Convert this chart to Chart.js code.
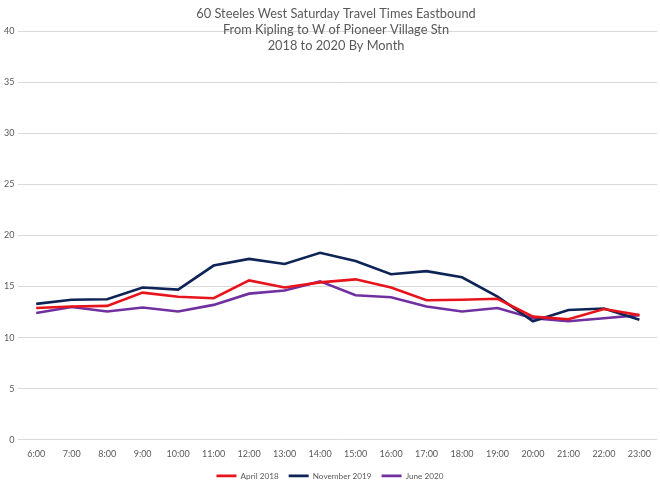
<!DOCTYPE html>
<html>
<head>
<meta charset="utf-8">
<script src="https://cdn.jsdelivr.net/npm/chart.js@4"></script>
<style>
  body { margin: 0; background: #fff; }
  #wrap { width: 660px; height: 484px; }
</style>
</head>
<body>
<div id="wrap"><canvas id="grafico" width="660" height="484"></canvas></div>
<script>
// Datos
const horas = ["6:00", "7:00", "8:00", "9:00", "10:00", "11:00", "12:00", "13:00", "14:00",
  "15:00", "16:00", "17:00", "18:00", "19:00", "20:00", "21:00", "22:00", "23:00"];
const abril2018 = [12.9, 13.05, 13.1, 14.4, 14.0, 13.85, 15.6, 14.9, 15.4,
  15.7, 14.9, 13.65, 13.7, 13.8, 12.05, 11.8, 12.8, 12.2];
const noviembre2019 = [13.3, 13.7, 13.75, 14.9, 14.7, 17.05, 17.7, 17.2, 18.3,
  17.5, 16.2, 16.5, 15.9, 14.0, 11.6, 12.7, 12.85, 11.75];
const junio2020 = [12.4, 13.0, 12.55, 12.95, 12.55, 13.2, 14.3, 14.6, 15.5,
  14.15, 13.95, 13.05, 12.55, 12.9, 11.9, 11.6, 11.9, 12.2];
const titulo = ["60 Steeles West Saturday Travel Times Eastbound",
  "From Kipling to W of Pioneer Village Stn", "2018 to 2020 By Month"];

const fuente = "Lato, 'Open Sans', sans-serif";
const gris = "#595959";

// Titulo dibujado encima del area del grafico (como en Excel)
const tituloPlugin = {
  id: "tituloPlugin",
  afterDraw(chart) {
    const ctx = chart.ctx;
    ctx.save();
    ctx.fillStyle = gris;
    ctx.font = "12.8px " + fuente;
    ctx.textAlign = "center";
    ctx.textBaseline = "middle";
    for (var i = 0; i < titulo.length; i++) {
      ctx.fillText(titulo[i], 336, 14 + i * 16);
    }
    ctx.restore();
  },
};

const serie = (label, data, color) => ({
  label: label,
  data: data,
  borderColor: color,
  backgroundColor: color,
  borderWidth: 2.6,
  pointRadius: 0,
  tension: 0,
});

new Chart(document.getElementById("grafico"), {
  type: "line",
  data: {
    labels: horas,
    datasets: [
      serie("April 2018", abril2018, "#e8141b"),
      serie("November 2019", noviembre2019, "#0e2356"),
      serie("June 2020", junio2020, "#7030a0"),
    ],
  },
  plugins: [tituloPlugin],
  options: {
    responsive: false,
    animation: false,
    layout: { padding: { top: 31, right: 0, left: 0, bottom: -6 } },
    plugins: {
      title: { display: false },
      tooltip: { enabled: false },
      legend: {
        position: "bottom",
        labels: {
          usePointStyle: true,
          pointStyle: "line",
          pointStyleWidth: 20,
          padding: 10,
          color: gris,
          font: { family: fuente, size: 8.2 },
        },
      },
    },
    scales: {
      x: {
        offset: true,
        grid: { display: false, drawTicks: false },
        border: { display: false },
        afterFit: (scale) => { scale.height = 22; },
        ticks: {
          color: gris,
          font: { family: fuente, size: 9 },
          maxRotation: 0,
          autoSkip: false,
          padding: 9,
        },
      },
      y: {
        min: 0,
        max: 40,
        grid: { color: "#d9d9d9", lineWidth: 1, drawTicks: false },
        border: { display: false },
        ticks: {
          stepSize: 5,
          color: gris,
          font: { family: fuente, size: 9 },
          padding: 4,
        },
      },
    },
  },
});
</script>
</body>
</html>
